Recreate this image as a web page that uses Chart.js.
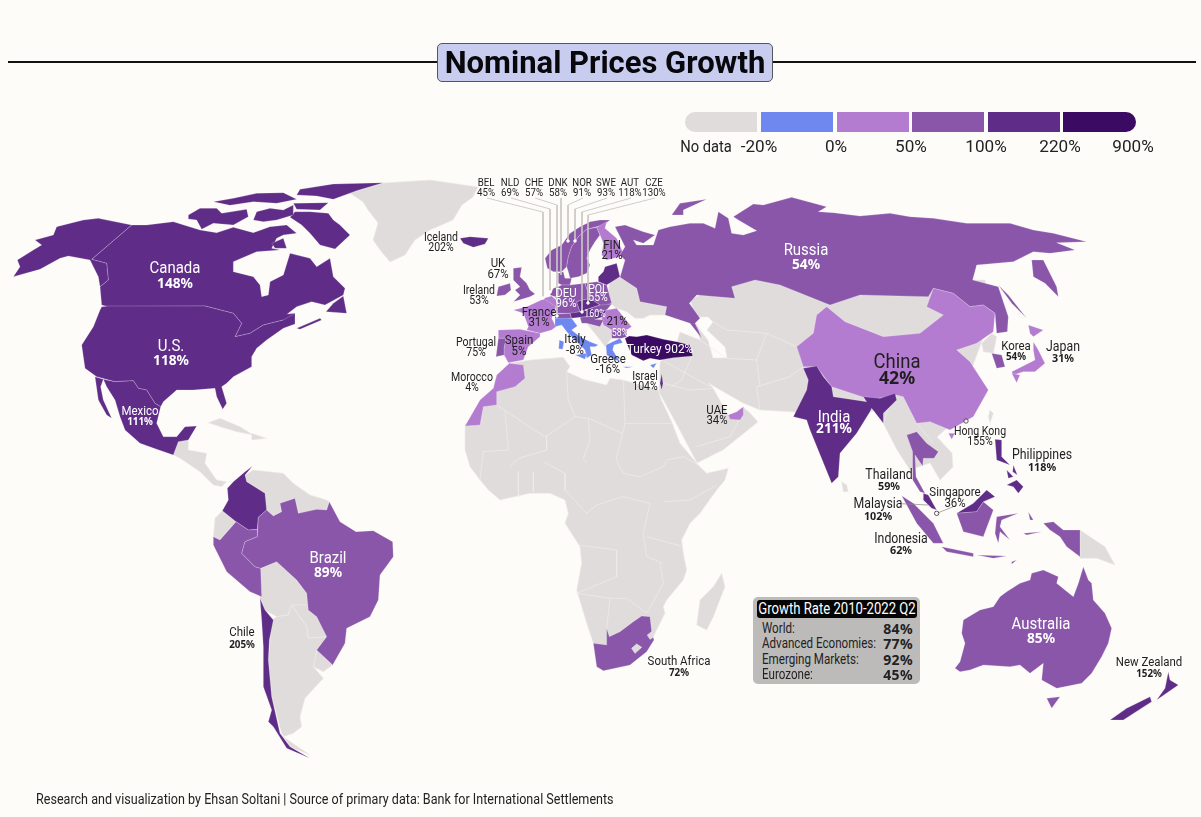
<!DOCTYPE html>
<html>
<head>
<meta charset="utf-8">
<title>Nominal Prices Growth</title>
<script src="https://cdn.jsdelivr.net/npm/chart.js@4"></script>
<style>
  html, body { margin: 0; padding: 0; background: #fefcf9; }
  #page { position: relative; width: 1201px; height: 817px; overflow: hidden; color: #1b1a1c;
          font-family: Roboto, sans-serif; }
  #map { position: absolute; left: 0; top: 0; }
  .rule { position: absolute; top: 61px; height: 2px; background: #111; }
  #title { position: absolute; left: 437px; top: 43px; width: 334px; height: 37px; text-align: center;
           background: #c8ccef; border: 1px solid #55555f; border-radius: 5px;
           font: bold 31px/37px Roboto, sans-serif; color: #08080c; white-space: nowrap; }
  .swatch { position: absolute; top: 112px; height: 20px; }
  .legend-label { position: absolute; top: 137px; font-size: 16px; line-height: 20px; transform: translateX(-50%) scaleX(1.07); white-space: nowrap; color: #222; }
  .lab { position: absolute; transform: translate(-50%, -50%) scaleX(.88); white-space: nowrap; line-height: 1; }
  #box { position: absolute; left: 753px; top: 597px; width: 167px; height: 87px; background: #bdbbb9; border-radius: 5px; }
  #box-head { position: absolute; left: 4px; top: 3px; width: 160px; height: 18px; line-height: 18px; background: #050505; color: #fff;
              border-radius: 3px; font-size: 16px; white-space: nowrap; }
  #box-head span { position: absolute; left: 50%; top: 0; transform: translateX(-50%) scaleX(.82); }
  .row { position: absolute; left: 9px; width: 151px; font-size: 14.5px; line-height: 15px; white-space: nowrap; color: #222; }
  .row span { display: inline-block; transform: scaleX(.8); transform-origin: left; }
  .row b { position: absolute; right: 0; top: 0; font: bold 14px/15px "Noto Sans", sans-serif; letter-spacing: .4px; }
  #source { position: absolute; left: 36px; top: 791px; font-size: 14.5px; line-height: 17px; color: #222; white-space: nowrap; transform-origin: left; }
</style>
</head>
<body>
<div id="page">
  <canvas id="map" width="1201" height="817"></canvas>
  <div class="rule" style="left:8px;width:430px"></div>
  <div class="rule" style="left:772px;width:424px"></div>
  <div id="title">Nominal Prices Growth</div>
  <div id="legend"></div>
  <div id="box">
    <div id="box-head"><span>Growth Rate 2010-2022 Q2</span></div>
    <div id="box-rows"></div>
  </div>
  <div id="source">Research and visualization by Ehsan Soltani | Source of primary data: Bank for International Settlements</div>
</div>

<script>
// legend
const binEdges = [-20, 0, 50, 100, 220, 900];
const binColors = ['#6f88f0', '#b47cd0', '#8a56a9', '#5f2d87', '#3b0a62'];
const noDataColor = '#dfdcdb';
const legendTicks = ['No data', '-20%', '0%', '50%', '100%', '220%', '900%'];

// summary box
const summaryNames = ['World:', 'Advanced Economies:', 'Emerging Markets:', 'Eurozone:'];
const summaryValues = [84, 77, 92, 45];

function trace(ox, oy, pts) {
    return pts.map(p => ({ x: ox + p[0] / 3, y: oy + p[1] / 3 }));
}
function mapUnits(pts) {
    return pts.map(p => ({ x: p[0], y: p[1] }));
}

// north america
const alaska = trace(0, 170, [[40,320],[60,290],[52,270],[100,240],[125,225],[105,210],[160,195],[170,170],[250,150],[295,145],[395,165],[275,268],[320,280],[325,330],[300,350],[295,320],[270,270],[205,258],[180,265],[120,298]]);
const canadaMain = trace(0, 170, [[395,165],[440,165],[520,155],[600,180],[650,188],[700,172],[760,188],[810,170],[860,165],[890,190],[850,195],[830,205],[815,235],[840,240],[770,245],[700,275],[700,305],[760,320],[780,345],[785,380],[805,375],[810,335],[850,315],[870,250],[930,265],[950,290],[990,265],[1000,320],[1035,355],[1030,375],[975,405],[935,395],[890,410],[862,432],[885,430],[885,460],[850,450],[790,465],[750,490],[705,500],[725,460],[700,430],[615,408],[325,410],[305,405],[300,350],[325,330],[320,280],[275,268]]);
const baffin = trace(0, 170, [[1050,195],[1005,237],[960,225],[930,190],[905,165],[870,142],[885,125],[930,125],[985,130],[1000,150],[1020,165]]);
const ellesmere = trace(0, 170, [[890,75],[900,58],[1000,42],[1150,38],[1070,62],[1000,88],[950,78]]);
const melville = trace(0, 170, [[640,95],[700,85],[770,70],[850,68],[890,88],[830,100],[760,95],[690,106]]);
const victoria = trace(0, 170, [[565,135],[600,115],[650,115],[665,130],[740,118],[745,140],[700,165],[640,160],[605,178],[590,150],[565,147]]);
const somerset = trace(0, 170, [[770,125],[810,115],[850,120],[880,105],[880,135],[830,150],[790,155],[760,150]]);
const devon = trace(0, 170, [[880,100],[985,98],[960,120],[890,118]]);
const southampton = trace(0, 170, [[815,220],[850,205],[860,235],[825,235]]);
const newfoundland = trace(0, 170, [[978,425],[1000,400],[1030,378],[1040,430]]);
const novaScotia = trace(0, 170, [[890,475],[960,445],[965,450],[900,478]]);
const usMain = trace(0, 170, [[305,410],[325,408],[615,408],[700,430],[725,460],[705,500],[750,490],[790,465],[850,450],[885,430],[885,462],[850,475],[800,510],[770,535],[755,560],[755,590],[700,620],[680,640],[665,650],[680,700],[668,718],[650,680],[645,655],[580,660],[530,660],[490,695],[482,710],[465,700],[440,660],[415,655],[400,632],[345,635],[290,620],[255,595],[245,525],[280,470],[300,420]]);
const mexicoMain = trace(0, 170, [[310,628],[345,635],[400,632],[415,655],[440,660],[465,700],[482,710],[470,760],[490,800],[530,800],[555,770],[590,768],[565,810],[535,815],[520,855],[470,838],[420,820],[375,780],[360,740],[345,690],[320,650]]);
const baja = trace(0, 170, [[285,620],[310,628],[302,650],[310,690],[335,745],[320,735],[295,690]]);
const centralAmerica = trace(0, 170, [[535,815],[565,810],[565,840],[620,850],[615,880],[650,930],[680,935],[665,950],[640,945],[600,905],[540,865],[520,855]]);
const cuba = trace(0, 170, [[625,758],[660,745],[720,770],[760,795],[710,785],[660,770]]);
const hispaniola = trace(0, 170, [[755,790],[800,805],[755,810]]);
const greenland = mapUnits([[350,193],[383,183],[430,180],[478,187],[473,197],[462,205],[453,220],[430,230],[415,240],[405,255],[390,262],[380,250],[373,240],[378,223],[368,210],[363,202]]);
const iceland = trace(430, 170, [[90,205],[120,200],[175,205],[165,222],[130,232],[100,220]]);

// south america
const colombia = trace(170, 440, [[248,78],[225,95],[190,125],[172,145],[175,180],[157,212],[198,245],[235,270],[262,268],[265,232],[290,210],[285,160],[230,125],[225,105]]);
const venezuela = trace(170, 440, [[225,105],[250,90],[340,100],[370,130],[420,165],[470,180],[478,185],[470,210],[440,208],[385,220],[375,175],[330,190],[335,215],[310,228],[290,210],[285,160],[230,125]]);
const ecuador = trace(170, 440, [[157,212],[198,245],[150,300],[130,290],[135,235]]);
const peru = trace(170, 440, [[198,245],[235,270],[262,268],[262,290],[225,305],[215,340],[255,380],[272,385],[275,470],[240,455],[170,395],[130,315],[130,290],[150,300]]);
const brazil = trace(170, 440, [[265,232],[290,210],[310,228],[335,215],[330,190],[375,175],[385,220],[440,208],[470,210],[478,185],[510,245],[558,275],[610,272],[668,305],[670,350],[630,405],[625,480],[600,530],[530,565],[525,610],[488,675],[440,630],[470,590],[440,530],[415,510],[410,460],[380,420],[320,365],[272,385],[255,380],[215,340],[225,305],[262,290]]);
const bolivia = trace(170, 440, [[272,385],[320,365],[380,420],[410,460],[415,495],[365,495],[355,525],[320,530],[285,510],[270,475]]);
const paraguay = trace(170, 440, [[365,495],[415,495],[440,530],[470,590],[415,595],[410,560]]);
const uruguay = trace(170, 440, [[440,630],[488,675],[460,695],[430,680]]);
const argentina = trace(170, 440, [[320,530],[355,525],[365,495],[410,560],[415,595],[470,590],[440,630],[430,680],[460,715],[405,775],[390,830],[395,860],[370,880],[340,890],[420,945],[360,920],[335,880],[305,770],[295,660],[305,540]]);
const chile = trace(170, 440, [[270,475],[285,510],[310,540],[298,600],[295,660],[305,770],[330,880],[360,920],[420,955],[350,925],[310,860],[295,845],[305,810],[280,740],[280,620],[275,540]]);

// africa
const africa = trace(450, 350, [[178,40],[240,30],[340,22],[360,50],[350,65],[400,88],[470,105],[480,85],[520,90],[625,120],[632,145],[665,215],[690,280],[745,345],[770,370],[835,355],[825,390],[800,420],[750,490],[720,520],[695,570],[700,610],[710,660],[700,690],[650,750],[640,770],[645,790],[620,840],[610,860],[540,945],[460,962],[430,880],[410,820],[380,720],[395,640],[390,590],[345,520],[355,490],[345,450],[300,430],[240,430],[150,450],[115,420],[90,390],[60,350],[45,300],[45,228],[140,120]]);
const madagascar = trace(450, 350, [[815,670],[825,710],[790,800],[770,840],[740,825],[750,750],[790,710]]);
const morocco = trace(450, 350, [[178,40],[220,45],[225,85],[195,110],[140,125],[140,165],[100,170],[90,225],[45,228],[90,150],[130,115],[140,75]]);
const southAfrica = trace(450, 350, [[430,880],[470,885],[470,835],[478,860],[510,845],[550,815],[575,798],[600,800],[605,845],[612,870],[590,905],[540,945],[460,962],[440,950]]);
const lesotho = trace(450, 350, [[545,895],[560,882],[575,892],[555,910]]);
const eswatini = trace(450, 350, [[592,855],[605,845],[612,860],[600,868]]);

// europe
const norway = trace(430, 170, [[352,295],[345,265],[365,240],[395,225],[420,190],[450,170],[480,155],[510,150],[540,150],[520,165],[500,170],[470,178],[445,200],[425,230],[415,260],[410,290],[395,305],[370,305]]);
const sweden = trace(430, 170, [[410,290],[415,260],[425,230],[445,200],[470,178],[500,172],[510,195],[495,215],[480,240],[470,265],[480,285],[470,310],[445,320],[420,325],[415,305]]);
const finland = trace(430, 170, [[500,172],[530,155],[525,175],[560,205],[578,245],[570,260],[530,270],[515,255],[520,220],[510,195]]);
const denmark = trace(430, 170, [[385,310],[400,305],[405,325],[425,325],[420,345],[395,345],[385,340]]);
const baltics = trace(430, 170, [[505,320],[520,305],[525,290],[560,280],[570,320],[530,345],[505,335]]);
const uk = trace(430, 170, [[250,295],[275,292],[270,320],[290,340],[300,360],[315,372],[300,380],[250,395],[270,375],[255,360],[270,350],[250,330]]);
const ireland = trace(430, 170, [[205,350],[240,340],[243,360],[225,375],[200,378]]);
const france = trace(430, 170, [[345,385],[290,410],[250,420],[280,430],[295,470],[290,480],[330,490],[365,480],[378,470],[365,445],[375,420],[380,405]]);
const spain = trace(430, 170, [[205,480],[270,478],[330,490],[330,500],[295,530],[280,570],[235,578],[222,555],[222,535],[228,505],[205,505]]);
const portugal = trace(430, 170, [[205,505],[228,505],[222,535],[222,555],[198,560]]);
const belgium = trace(430, 170, [[340,385],[365,378],[385,395],[378,410]]);
const netherlands = trace(430, 170, [[360,375],[370,355],[385,350],[385,375],[375,380]]);
const germany = trace(430, 170, [[385,350],[395,345],[420,345],[465,340],[480,385],[440,395],[450,425],[430,430],[380,430],[378,410],[385,395],[375,380],[385,375]]);
const switzerland = trace(430, 170, [[375,432],[420,430],[425,445],[400,450],[375,445]]);
const austria = trace(430, 170, [[420,430],[450,425],[480,415],[500,420],[495,438],[450,442],[425,445]]);
const czechia = trace(430, 170, [[440,395],[480,385],[510,405],[480,415],[450,425]]);
const poland = trace(430, 170, [[465,340],[500,335],[530,345],[545,400],[520,410],[510,405],[480,385]]);
const slovakia = trace(430, 170, [[480,415],[510,405],[545,402],[530,420],[495,425]]);
const hungary = trace(430, 170, [[495,425],[530,420],[520,440],[495,448],[480,445]]);
const romania = trace(430, 170, [[530,420],[560,415],[580,440],[605,470],[590,480],[545,480],[520,465],[515,445]]);
const bulgaria = trace(430, 170, [[545,480],[590,480],[590,500],[575,505],[545,505]]);
const croatia = trace(430, 170, [[450,442],[495,438],[495,448],[520,450],[510,470],[470,460],[455,460]]);
const balkans = trace(430, 170, [[495,448],[515,445],[520,465],[545,480],[545,505],[525,530],[510,510],[470,460],[510,470]]);
const italy = trace(430, 170, [[375,445],[425,445],[442,468],[425,480],[450,500],[480,515],[505,525],[495,530],[480,530],[485,555],[470,565],[465,540],[440,515],[410,485],[395,465],[375,470]]);
const sicily = trace(430, 170, [[435,555],[470,550],[465,568]]);
const sardinia = trace(430, 170, [[388,510],[402,515],[398,538],[386,536]]);
const greece = trace(430, 170, [[528,525],[570,505],[578,518],[552,525],[548,540],[570,575],[545,565],[530,555]]);
const crete = trace(430, 170, [[578,590],[610,590],[590,594]]);
const cyprus = trace(430, 170, [[660,585],[680,580],[670,595]]);
const ukraine = trace(600, 190, [[30,270],[60,262],[110,295],[120,335],[200,350],[195,375],[150,375],[130,385],[105,385],[80,365],[50,355],[30,340],[25,300]]);
const turkey = trace(430, 170, [[585,505],[598,498],[620,500],[650,495],[700,508],[740,515],[780,525],[788,558],[730,563],[690,570],[660,565],[640,572],[605,555],[590,520]]);
const israel = trace(430, 170, [[695,610],[699,640],[695,660],[690,640]]);

// asia, the north edge of the grey block runs under russia and dips into the caspian
const asiaBlock = mapUnits([[660,362],[659,392],[677,425],[697,463],[723,450],[758,422],[750,413],[743,407],[742,413],[728,415],[713,388],[708,383],[715,387],[743,403],[760,410],[795,412],[830,420],[878,410],[883,423],[897,450],[910,470],[930,463],[940,480],[953,467],[952,453],[937,437],[947,428],[960,400],[990,320],[985,280],[840,280],[770,280],[745,278],[720,285],[690,300],[696,317],[708,317],[713,322],[707,330],[725,347],[727,358],[713,358],[708,340],[700,330],[695,322],[700,340],[680,332],[676,345]]);
const russia = trace(600, 190, [[45,110],[75,105],[130,125],[165,135],[130,160],[100,150],[110,165],[160,165],[175,120],[210,110],[270,100],[310,100],[345,115],[355,65],[385,85],[395,130],[430,135],[470,122],[415,90],[400,80],[460,42],[490,45],[575,22],[680,50],[655,65],[700,68],[780,78],[870,70],[930,80],[1000,85],[1100,100],[1230,100],[1300,120],[1360,130],[1460,155],[1370,158],[1425,180],[1350,190],[1300,185],[1240,215],[1130,225],[1118,270],[1195,290],[1225,380],[1222,425],[1190,430],[1185,370],[1150,345],[1110,350],[1060,310],[1000,295],[985,320],[780,315],[690,345],[540,285],[465,270],[395,290],[405,325],[290,315],[268,340],[300,385],[285,400],[295,420],[305,445],[270,400],[195,375],[200,350],[120,335],[110,295],[60,262],[75,210],[60,195],[75,170]]);
const kamchatka = trace(600, 190, [[1295,210],[1330,210],[1370,290],[1375,320],[1335,280],[1300,260]]);
const novayaZemlya = trace(600, 190, [[215,75],[240,40],[320,28],[250,60],[250,75]]);
const sakhalin = trace(600, 190, [[1195,285],[1225,315],[1280,385],[1235,340]]);
const china = trace(600, 190, [[590,470],[640,430],[650,375],[680,350],[735,395],[850,440],[960,430],[1030,375],[980,350],[1000,295],[1060,310],[1110,350],[1150,345],[1185,370],[1180,425],[1130,460],[1070,480],[1110,515],[1165,600],[1120,680],[1050,720],[990,695],[950,700],[910,620],[890,615],[835,625],[800,625],[695,590],[650,530],[610,530]]);
const hainan = trace(600, 190, [[1045,730],[1065,730],[1055,748]]);
const taiwan = trace(780, 380, [[630,90],[640,100],[630,130],[625,110]]);
const india = trace(600, 190, [[610,535],[650,528],[670,560],[695,590],[700,620],[800,635],[790,620],[840,625],[885,610],[890,630],[850,670],[850,700],[815,655],[810,665],[770,730],[720,790],[715,860],[695,880],[630,720],[620,690],[580,680],[600,640],[620,600],[625,570]]);
const sriLanka = trace(780, 380, [[185,305],[200,315],[205,335],[190,335]]);
const northKorea = trace(600, 190, [[1145,460],[1175,430],[1190,440],[1180,490],[1150,485]]);
const korea = trace(600, 190, [[1175,490],[1205,495],[1215,530],[1190,535]]);
const honshu = trace(600, 190, [[1300,455],[1315,480],[1335,520],[1305,545],[1270,545],[1240,555],[1235,545],[1265,530],[1305,510],[1300,480]]);
const hokkaido = trace(600, 190, [[1285,405],[1330,420],[1300,440],[1290,430]]);
const kyushu = trace(600, 190, [[1235,550],[1260,555],[1250,578]]);
const uae = trace(450, 350, [[835,195],[860,185],[880,170],[880,195],[870,210],[840,208]]);
const thailand = trace(780, 380, [[380,165],[410,155],[440,190],[475,215],[462,235],[430,235],[428,258],[405,225],[408,290],[435,340],[420,335],[398,300],[398,215]]);
const malaya = trace(780, 380, [[430,340],[445,345],[470,390],[455,385],[430,360]]);
const sarawak = trace(780, 380, [[530,400],[580,370],[620,330],[645,350],[610,365],[590,395]]);
const sumatra = trace(780, 380, [[365,347],[400,370],[460,430],[490,490],[460,490],[410,430]]);
const java = trace(780, 380, [[485,500],[580,520],[580,530],[500,515]]);
const sundas = trace(780, 380, [[590,525],[680,528],[640,535]]);
const timor = trace(780, 380, [[695,545],[710,540],[695,553]]);
const kalimantan = trace(780, 380, [[530,400],[590,395],[610,365],[640,390],[610,470],[550,455]]);
const sulawesi = trace(780, 380, [[650,410],[715,400],[665,420],[660,440],[690,480],[660,455],[655,490],[645,460]]);
const halmahera = trace(780, 380, [[745,395],[760,420],[750,420]]);
const seram = trace(780, 380, [[730,460],[785,455],[740,465]]);
const papua = trace(780, 380, [[790,430],[820,425],[850,450],[900,450],[900,530],[860,500],[840,470],[810,450]]);
const png = trace(780, 380, [[900,450],[975,500],[1005,555],[950,535],[900,535]]);
const luzon = trace(780, 380, [[645,178],[665,180],[665,230],[690,255],[650,240]]);
const mindanao = trace(780, 380, [[680,315],[710,300],[730,320],[715,340],[700,320]]);
const visayas = trace(780, 380, [[680,270],[700,290],[685,295]]);
const samar = trace(780, 380, [[700,255],[712,285],[698,275]]);

// oceania
const australia = trace(780, 380, [[525,865],[540,845],[555,790],[545,760],[550,720],[600,690],[640,680],[660,650],[680,635],[720,610],[750,600],[755,580],[790,570],[835,590],[830,610],[880,650],[895,610],[910,560],[925,600],[935,610],[940,660],[975,700],[995,745],[985,790],[965,830],[935,880],[905,910],[830,925],[785,900],[790,850],[770,865],[750,880],[720,855],[690,860],[610,855],[570,870],[540,875]]);
const tasmania = trace(780, 380, [[800,955],[840,950],[815,985]]);
const nzNorth = trace(780, 380, [[1165,875],[1170,900],[1195,915],[1130,960],[1155,925]]);
const nzSouth = trace(780, 380, [[1110,950],[1115,965],[1030,1020],[990,1020],[1040,985]]);

// which outlines have no data, drawn first so the coloured ones sit on top
const noDataShapes = [greenland, centralAmerica, cuba, hispaniola, venezuela, ecuador, bolivia, paraguay, uruguay, argentina, africa, madagascar, ukraine, balkans, asiaBlock, taiwan, sriLanka, northKorea, png];
const enclaves = [lesotho, eswatini];

// countries and their growth, same order in all three
const countryNames = ['Canada', 'U.S.', 'Mexico', 'Iceland', 'Colombia', 'Peru', 'Brazil', 'Chile', 'Morocco', 'South Africa', 'Norway', 'Sweden', 'Finland', 'Denmark', 'Baltics', 'UK', 'Ireland', 'France', 'Spain', 'Portugal', 'Belgium', 'Netherlands', 'Germany', 'Switzerland', 'Austria', 'Poland', 'Czechia', 'Slovakia', 'Hungary', 'Romania', 'Bulgaria', 'Croatia', 'Italy', 'Greece', 'Cyprus', 'Turkey', 'Israel', 'Russia', 'China', 'India', 'Korea', 'Japan', 'UAE', 'Thailand', 'Malaysia', 'Indonesia', 'Philippines', 'Australia', 'New Zealand'];
const countryGrowth = [148, 118, 111, 202, 150, 80, 89, 205, 4, 72, 91, 93, 21, 58, 110, 67, 53, 31, 5, 75, 45, 69, 96, 57, 118, 55, 130, 60, 160, 21, 58, 60, -8, -16, -10, 902, 104, 54, 42, 211, 54, 31, 34, 59, 102, 62, 118, 85, 152];
const countryShapes = [
    [canadaMain, baffin, ellesmere, victoria, melville, somerset, devon, southampton, newfoundland, novaScotia],
    [usMain, alaska], [mexicoMain, baja], [iceland], [colombia], [peru], [brazil], [chile], [morocco], [southAfrica],
    [norway], [sweden], [finland], [denmark], [baltics], [uk], [ireland], [france], [spain], [portugal],
    [belgium], [netherlands], [germany], [switzerland], [austria], [poland], [czechia], [slovakia], [hungary],
    [romania], [bulgaria], [croatia], [italy, sicily, sardinia], [greece, crete], [cyprus], [turkey], [israel],
    [russia, kamchatka, novayaZemlya, sakhalin], [china, hainan], [india], [korea], [honshu, hokkaido, kyushu],
    [uae], [thailand], [malaya, sarawak], [sumatra, java, sundas, timor, kalimantan, sulawesi, halmahera, seram, papua],
    [luzon, mindanao, visayas, samar], [australia, tasmania], [nzNorth, nzSouth]
];

// thin borders inside the grey land
const africaBorders = [
    [[140,165],[280,258],[290,258],[375,200],[415,205],[518,250]], [[350,70],[355,150],[375,200]], [[520,90],[525,220],[518,250]], [[525,220],[665,220]],
    [[518,250],[498,330],[520,370],[570,380],[640,350],[650,335]], [[415,205],[420,270],[400,325],[410,340]], [[290,258],[290,300],[205,325],[180,350]],
    [[165,180],[175,300],[100,305]], [[280,335],[345,370],[345,420]], [[650,330],[700,320],[745,345]], [[800,405],[720,450],[640,455]],
    [[600,460],[580,550],[590,620],[640,640]], [[410,490],[440,465],[520,440],[600,460]], [[385,585],[500,600],[500,680],[380,730]], [[380,730],[480,745],[470,835]],
    [[480,745],[530,745],[590,790]], [[590,560],[700,590]], [[630,640],[640,700],[590,790]], [[345,420],[410,490]], [[100,305],[90,390]], [[205,365],[205,440]], [[250,365],[250,425]]
].map(b => trace(450, 350, b));
const asiaBorders = [
    [[275,500],[245,570],[215,590]], [[470,590],[480,660]], [[340,395],[380,420],[500,430],[590,470]], [[300,450],[380,505],[470,510],[480,590]],
    [[470,590],[570,560],[610,530]], [[185,510],[330,590]], [[500,430],[470,510]], [[850,700],[870,640]], [[950,700],[1000,760]]
].map(b => trace(600, 190, b));
const arabiaBorders = [[[640,100],[720,120],[790,115]], [[740,290],[840,260],[880,185]]].map(b => trace(450, 350, b));

// leader lines for the row of small countries on top of europe
const leaderBel = mapUnits([[487,198],[543,212],[543,298]]);
const leaderNld = mapUnits([[511,198],[550,209],[550,292]]);
const leaderChe = mapUnits([[535,198],[557,205],[557,316]]);
const leaderDnk = mapUnits([[561,198],[561,275]]);
const leaderNor = mapUnits([[583,198],[568,205],[568,241]]);
const leaderSwe = mapUnits([[607,198],[575,209],[575,241]]);
const leaderAut = mapUnits([[631,198],[582,212],[582,312]]);
const leaderCze = mapUnits([[655,198],[588,215],[588,303]]);
const leaders = [leaderBel, leaderNld, leaderChe, leaderDnk, leaderNor, leaderSwe, leaderAut, leaderCze];
const leaderMalaysia = trace(780, 380, [[360,371],[445,375]]);
const leaderSingapore = trace(780, 380, [[525,378],[470,400]]);
const leaderEnds = mapUnits([[543,298],[550,292],[557,316],[568,241],[575,241],[582,312],[588,303]]);
const cityRings = trace(780, 380, [[558,123],[470,400]]);

function colorFor(v) {
    for (let i = 1; i < binEdges.length; i++) {
        if (v <= binEdges[i]) return binColors[i - 1];
    }
    return binColors[binColors.length - 1];
}

function shapeDataset(points, fillColor, lineColor) {
    return { data: points, closedShape: true, showLine: false, backgroundColor: fillColor, borderColor: lineColor, pointRadius: 0 };
}

function lineDataset(points, lineColor, width) {
    return { data: points, showLine: true, fill: false, borderColor: lineColor, borderWidth: width, pointRadius: 0, tension: 0 };
}

function dotDataset(points, radius, fillColor, lineColor) {
    return { data: points, showLine: false, pointRadius: radius, backgroundColor: fillColor, borderColor: lineColor, borderWidth: 0.8 };
}

// the filler clips a 'shape' to the x range of its end points, so close the polygons here instead
const polygonPlugin = {
    id: 'polygons',
    beforeDatasetDraw(chart, args) {
        const ds = chart.data.datasets[args.index];
        if (!ds.closedShape) return;
        const ctx = chart.ctx;
        ctx.save();
        ctx.beginPath();
        args.meta.data.forEach((pt, i) => {
            if (i === 0) ctx.moveTo(pt.x, pt.y);
            else ctx.lineTo(pt.x, pt.y);
        });
        ctx.closePath();
        ctx.fillStyle = ds.backgroundColor;
        ctx.fill();
        ctx.strokeStyle = ds.borderColor;
        ctx.lineWidth = 0.6;
        ctx.stroke();
        ctx.restore();
    }
};

const datasets = [];
noDataShapes.forEach(s => datasets.push(shapeDataset(s, noDataColor, '#eeebe9')));
africaBorders.concat(asiaBorders, arabiaBorders).forEach(b => datasets.push(lineDataset(b, '#efecea', 0.7)));
countryShapes.forEach((parts, i) => {
    parts.forEach(p => datasets.push(shapeDataset(p, colorFor(countryGrowth[i]), 'rgba(255,255,255,0.35)')));
});
enclaves.forEach(s => datasets.push(shapeDataset(s, noDataColor, '#eeebe9')));
leaders.forEach(l => datasets.push(lineDataset(l, '#c9c6c4', 0.9)));
datasets.push(lineDataset(leaderMalaysia, '#888', 0.7));
datasets.push(lineDataset(leaderSingapore, '#888', 0.7));
datasets.push(dotDataset(leaderEnds, 1.3, '#fff', '#fff'));
datasets.push(dotDataset(cityRings, 2.2, 'rgba(255,255,255,0.6)', '#333'));
// chart.js draws the last dataset first, keep the order above on screen
datasets.reverse();

const chart = new Chart(document.getElementById('map'), {
    type: 'scatter',
    data: { datasets: datasets },
    plugins: [polygonPlugin],
    options: {
        responsive: false,
        animation: false,
        layout: { padding: 0, autoPadding: false },
        scales: {
            x: { type: 'linear', display: false, min: 0, max: 1201 },
            y: { type: 'linear', display: false, min: 0, max: 817, reverse: true }
        },
        plugins: { legend: { display: false }, tooltip: { enabled: false } }
    }
});

// map labels: name, growth, where, size, colour
const labelNames = ['Canada', 'U.S.', 'Mexico', 'Brazil', 'Chile', 'Russia', 'China', 'India', 'Australia', 'South Africa', 'Iceland', 'UK', 'Ireland', 'France', 'DEU', 'POL', 'FIN', 'Portugal', 'Spain', 'Italy', 'Greece', 'Israel', 'Morocco', 'UAE', 'Hong Kong', 'Korea', 'Japan', 'Philippines', 'Thailand', 'Malaysia', 'Singapore', 'Indonesia', 'New Zealand', 'BEL', 'NLD', 'CHE', 'DNK', 'NOR', 'SWE', 'AUT', 'CZE'];
const labelValues = ['148%', '118%', '111%', '89%', '205%', '54%', '42%', '211%', '85%', '72%', '202%', '67%', '53%', '31%', '96%', '55%', '21%', '75%', '5%', '-8%', '-16%', '104%', '4%', '34%', '155%', '54%', '31%', '118%', '59%', '102%', '36%', '62%', '152%', '45%', '69%', '57%', '58%', '91%', '93%', '118%', '130%'];
const labelX = [175, 171, 140, 328, 242, 806, 897, 834, 1041, 679, 441, 498, 479, 539, 566, 598, 612, 476, 519, 575, 608, 645, 472, 717, 980, 1016, 1063, 1042, 889, 878, 955, 901, 1149, 486, 510, 534, 558, 582, 606, 630, 654];
const labelY = [267, 345, 410, 557, 631, 249, 361, 416, 623, 660, 237, 262, 290, 311, 292, 289, 244, 342, 339, 338, 358, 376, 377, 409, 431, 345, 346, 454, 474, 503, 491, 538, 661, 182];
const labelGap = [16, 15, 11, 15, 13, 15, 16, 12, 15, 12, 10, 11, 10, 10, 10, 8, 10, 10, 11, 11, 10, 10, 10, 10, 10, 11, 11, 12, 11, 12, 11, 11, 12, 10];
const labelSize = [17, 17, 13, 17, 13, 17, 21, 17, 17, 13, 12, 13, 12, 13, 13, 12, 13, 12, 13, 13, 13, 12, 12, 13, 12, 13, 14, 14, 14, 14, 13, 14, 13];
const whiteLabels = ['Canada', 'U.S.', 'Mexico', 'Brazil', 'Russia', 'India', 'Australia', 'DEU', 'POL'];
const smallBold = ['Chile', 'South Africa', 'Philippines', 'Thailand', 'Malaysia', 'Indonesia', 'New Zealand', 'Japan', 'Korea', 'Mexico'];
const singleLabels = [['Turkey 902%', 660, 349, 13.5, '#fff'], ['160%', 595, 314, 10, '#fff'], ['21%', 617, 320, 13, '#222'], ['58%', 620, 333, 10, '#fff']];

const page = document.getElementById('page');

function addLabel(text, x, y, size, color, bold) {
    const el = document.createElement('div');
    el.className = 'lab';
    el.textContent = text;
    el.style.left = chart.scales.x.getPixelForValue(x) + 'px';
    el.style.top = chart.scales.y.getPixelForValue(y) + 'px';
    el.style.fontSize = size + 'px';
    el.style.color = color;
    if (bold) {
        el.style.fontWeight = 'bold';
        el.style.fontFamily = '"Noto Sans", sans-serif';
        el.style.fontSize = (size - 3) + 'px';
        el.style.transform = 'translate(-50%, -50%) scaleX(.98)';
    }
    page.appendChild(el);
}

labelNames.forEach((name, i) => {
    const topRow = i >= 33;
    const color = whiteLabels.includes(name) ? '#fff' : '#1f1e20';
    const y = topRow ? labelY[33] : labelY[i];
    const gap = topRow ? labelGap[33] : labelGap[i];
    const size = topRow ? 11 : labelSize[i];
    addLabel(name, labelX[i], y, size, color, false);
    addLabel(labelValues[i], labelX[i], y + gap, size, color, size >= 17 || smallBold.includes(name));
});
singleLabels.forEach(l => addLabel(l[0], l[1], l[2], l[3], l[4], false));

// legend bar and its ticks
const swatchLeft = [685, 761, 837, 912, 988, 1063];
const swatchWidth = [72, 72, 72, 72, 72, 73];
const swatchFill = [noDataColor].concat(binColors);
const tickCenter = [706, 759, 836, 911, 986, 1060, 1133];

const legend = document.getElementById('legend');
swatchFill.forEach((c, i) => {
    const s = document.createElement('div');
    s.className = 'swatch';
    s.style.left = swatchLeft[i] + 'px';
    s.style.width = swatchWidth[i] + 'px';
    s.style.background = c;
    if (i === 0) s.style.borderRadius = '10px 0 0 10px';
    if (i === swatchFill.length - 1) s.style.borderRadius = '0 10px 10px 0';
    legend.appendChild(s);
});
legendTicks.forEach((t, i) => {
    const l = document.createElement('div');
    l.className = 'legend-label';
    l.textContent = t;
    l.style.left = tickCenter[i] + 'px';
    if (i === 0) l.style.transform = 'translateX(-50%) scaleX(.92)';
    legend.appendChild(l);
});

// summary rows
const rows = document.getElementById('box-rows');
summaryNames.forEach((n, i) => {
    const r = document.createElement('div');
    r.className = 'row';
    r.style.top = (24 + i * 15.3) + 'px';
    const s = document.createElement('span');
    s.textContent = n;
    r.appendChild(s);
    const b = document.createElement('b');
    b.textContent = summaryValues[i] + '%';
    r.appendChild(b);
    rows.appendChild(r);
});

// footer is a condensed face in the original, squeeze to its width
const source = document.getElementById('source');
source.style.transform = 'scaleX(' + (578 / source.offsetWidth) + ')';
</script>
</body>
</html>
